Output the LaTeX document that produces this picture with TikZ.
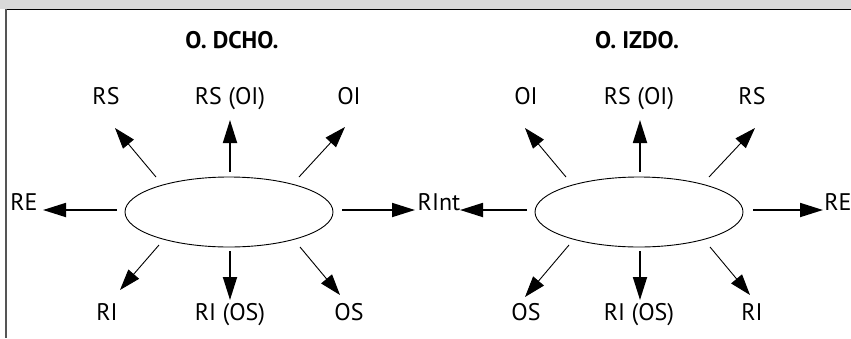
\documentclass[tikz,border=0pt]{standalone}
\usepackage{fontspec}
\setmainfont{PT Sans}
\usetikzlibrary{arrows.meta,shapes.geometric}
\definecolor{bandgray}{HTML}{D9D9D9}
\definecolor{framegray}{HTML}{555555}
\tikzset{
  lbl/.style={font=\fontsize{24}{26}\selectfont, inner sep=0pt, anchor=base},
  ttl/.style={font=\bfseries\fontsize{24}{26}\selectfont, inner sep=0pt, anchor=base},
  eye/.style={draw, ellipse, minimum width=208pt, minimum height=70pt, inner sep=0pt, line width=0.9pt},
  thick arrow/.style={line width=1.8pt, -{Triangle[length=23pt,width=14pt]}},
  thin arrow/.style={line width=0.9pt, -{Triangle[length=21pt,width=14pt]}}
}
\begin{document}
\begin{tikzpicture}[x=1pt,y=-1pt]
  \useasboundingbox (0,0) rectangle (851,338);
  % header band and frame
  \fill[bandgray] (0,0) rectangle (851,8.5);
  \draw[line width=1.5pt] (5,9.5) -- (851,9.5);
  \draw[framegray, line width=2pt] (6,9) -- (6,338);

  % ---------- right eye ----------
  \node[ttl] (t1) at (232,48) {O. DCHO.};
  \node[eye] (e1) at (229,212) {};
  \node[lbl] (a1) at (106,104) {RS};
  \node[lbl] (b1) at (230,104) {RS (OI)};
  \node[lbl] (c1) at (349,104) {OI};
  \node[lbl] (d1) at (24,210) {RE};
  \node[lbl] (ri) at (439,210) {RInt};
  \node[lbl] (f1) at (107,320) {RI};
  \node[lbl] (g1) at (230,320) {RI (OS)};
  \node[lbl] (h1) at (349,320) {OS};

  \coordinate (a1s) at (156,177); \coordinate (a1e) at (115,128);
  \coordinate (b1s) at (230,172); \coordinate (b1e) at (230,120);
  \coordinate (c1s) at (299,177); \coordinate (c1e) at (345,127);
  \coordinate (d1s) at (117,210); \coordinate (d1e) at (43,210);
  \coordinate (r1s) at (342,210); \coordinate (r1e) at (415,210);
  \coordinate (f1s) at (159,245); \coordinate (f1e) at (120,290);
  \coordinate (g1s) at (230,251); \coordinate (g1e) at (230,300);
  \coordinate (h1s) at (300,247); \coordinate (h1e) at (340,295);

  \draw[thin arrow]  (a1s) -- (a1e);
  \draw[thick arrow] (b1s) -- (b1e);
  \draw[thin arrow]  (c1s) -- (c1e);
  \draw[thick arrow] (d1s) -- (d1e);
  \draw[thick arrow] (r1s) -- (r1e);
  \draw[thin arrow]  (f1s) -- (f1e);
  \draw[thick arrow] (g1s) -- (g1e);
  \draw[thin arrow]  (h1s) -- (h1e);

  % ---------- left eye ----------
  \node[ttl] (t2) at (637,48) {O. IZDO.};
  \node[eye] (e2) at (639,212) {};
  \node[lbl] (a2) at (526,104) {OI};
  \node[lbl] (b2) at (639,104) {RS (OI)};
  \node[lbl] (c2) at (752,104) {RS};
  \node[lbl] (d2) at (838,210) {RE};
  \node[lbl] (f2) at (526,320) {OS};
  \node[lbl] (g2) at (639,320) {RI (OS)};
  \node[lbl] (h2) at (752,320) {RI};

  \coordinate (a2s) at (566,177); \coordinate (a2e) at (525,128);
  \coordinate (b2s) at (640,172); \coordinate (b2e) at (640,120);
  \coordinate (c2s) at (709,177); \coordinate (c2e) at (755,128);
  \coordinate (r2s) at (527,210); \coordinate (r2e) at (460,210);
  \coordinate (d2s) at (753,210); \coordinate (d2e) at (823,210);
  \coordinate (f2s) at (569,245); \coordinate (f2e) at (525,297);
  \coordinate (g2s) at (640,251); \coordinate (g2e) at (640,300);
  \coordinate (h2s) at (710,247); \coordinate (h2e) at (750,295);

  \draw[thin arrow]  (a2s) -- (a2e);
  \draw[thick arrow] (b2s) -- (b2e);
  \draw[thin arrow]  (c2s) -- (c2e);
  \draw[thick arrow] (r2s) -- (r2e);
  \draw[thick arrow] (d2s) -- (d2e);
  \draw[thin arrow]  (f2s) -- (f2e);
  \draw[thick arrow] (g2s) -- (g2e);
  \draw[thin arrow]  (h2s) -- (h2e);
\end{tikzpicture}
\end{document}
